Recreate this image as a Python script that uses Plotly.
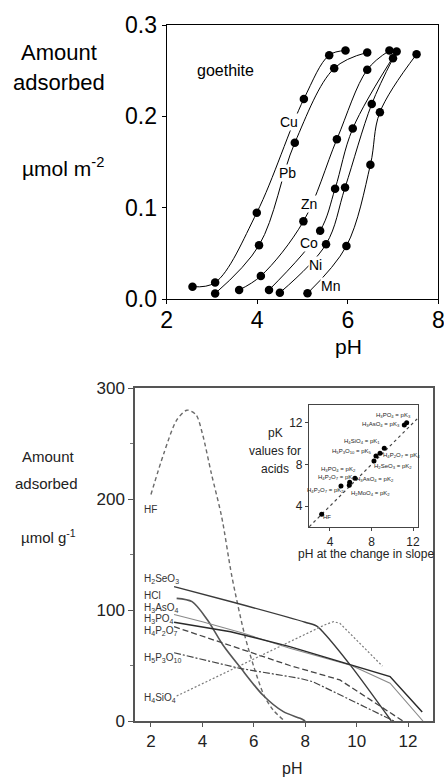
import plotly.graph_objects as go

W, H = 444, 781

# ---------------- top panel data (goethite, metals) ----------------
cu_ph = [2.57, 3.07, 3.99, 5.03, 5.59, 5.95]
cu_val = [0.0135, 0.018, 0.0945, 0.219, 0.267, 0.272]
pb_ph = [3.07, 4.04, 4.83, 5.70, 6.43]
pb_val = [0.006, 0.0588, 0.171, 0.2526, 0.270]
zn_ph = [3.60, 4.08, 5.02, 5.76, 6.43, 6.92]
zn_val = [0.0099, 0.0252, 0.085, 0.175, 0.251, 0.272]
co_ph = [4.26, 5.39, 5.72, 6.11, 7.08]
co_val = [0.0099, 0.0748, 0.1208, 0.1866, 0.271]
ni_ph = [4.50, 5.52, 5.94, 6.53, 7.00]
ni_val = [0.0069, 0.060, 0.122, 0.2135, 0.2635]
mn_ph = [5.11, 5.97, 6.50, 6.71, 7.52]
mn_val = [0.0062, 0.058, 0.147, 0.2045, 0.268]

# ---------------- bottom panel data (anions) ----------------
hf_ph = [2.0, 2.5, 3.0, 3.4, 3.75, 4.0, 4.35, 4.75, 5.15, 5.65, 6.0, 6.4, 6.75, 7.15]
hf_val = [204, 241, 271, 280, 276, 259, 223, 184, 130, 77, 49, 23, 10, 1]
se_ph = [2.9, 5.2, 8.0, 8.45, 8.7, 9.8, 11.35]
se_val = [121, 107, 89, 85.5, 80, 49, 0]
hcl_ph = [3.0, 3.6, 4.2, 4.8, 5.45, 6.35, 7.15, 7.8, 8.0]
hcl_val = [110.5, 107.5, 91, 68.5, 49, 23.4, 8.4, 2.4, 0]
as_ph = [2.9, 4.0, 5.6, 7.4, 9.8, 11.3, 12.58]
as_val = [96, 89.5, 79, 65.5, 50, 34, 0]
p_ph = [2.9, 5.1, 7.4, 9.8, 11.3, 12.55]
p_val = [89, 80.5, 67, 50.5, 40, 8]
p2o7_ph = [2.9, 7.4, 9.35, 11.8]
p2o7_val = [85, 50, 37, 0]
p3o10_ph = [2.9, 5.46, 7.79, 8.3, 11.45]
p3o10_val = [61.5, 47.4, 38.4, 35.4, 0]
si_ph = [3.0, 8.8, 9.1, 9.35, 11.0]
si_val = [22.5, 87, 89.5, 88, 49.5]

# ---------------- inset data ----------------
inset_ph = [3.2, 5.06, 5.86, 5.9, 6.41, 8.24, 8.43, 8.82, 9.23, 11.16, 11.39]
inset_pk = [3.2, 5.93, 6.0, 6.3, 6.67, 8.34, 8.82, 9.08, 9.56, 11.8, 12.03]
diag = [2.0, 12.4]

top_x_ticks = [2, 4, 6, 8]
top_y_ticks = [0.0, 0.1, 0.2, 0.3]
bot_x_ticks = [2, 4, 6, 8, 10, 12]
bot_y_ticks = [0, 100, 200, 300]
ins_ticks = [4, 8, 12]


def P(x, y):
    return x / W, 1 - y / H


fig = go.Figure()

# top panel
for xs, ys in [(cu_ph, cu_val), (pb_ph, pb_val), (zn_ph, zn_val),
               (co_ph, co_val), (ni_ph, ni_val), (mn_ph, mn_val)]:
    fig.add_trace(go.Scatter(x=xs, y=ys, mode="lines+markers",
                             line=dict(color="black", width=1, shape="spline", smoothing=1.0),
                             marker=dict(color="black", size=8.5),
                             xaxis="x", yaxis="y", showlegend=False, hoverinfo="skip"))

# bottom panel
bot_series = [
    (hf_ph, hf_val, "#6a6a6a", 1.4, "4px,3px", "spline"),
    (se_ph, se_val, "#3a3a3a", 1.4, "solid", "spline"),
    (hcl_ph, hcl_val, "#555555", 1.6, "solid", "spline"),
    (as_ph, as_val, "#8a8a8a", 1.1, "solid", "linear"),
    (p_ph, p_val, "#2a2a2a", 1.5, "solid", "linear"),
    (p2o7_ph, p2o7_val, "#444444", 1.3, "6px,3px", "linear"),
    (p3o10_ph, p3o10_val, "#444444", 1.2, "7px,2px,2px,2px", "linear"),
    (si_ph, si_val, "#7a7a7a", 1.2, "2px,2px", "linear"),
]
for xs, ys, c, w, d, sh in bot_series:
    fig.add_trace(go.Scatter(x=xs, y=ys, mode="lines",
                             line=dict(color=c, width=w, dash=d, shape=sh, smoothing=0.8),
                             xaxis="x2", yaxis="y2", showlegend=False, hoverinfo="skip"))

# inset
fig.add_trace(go.Scatter(x=diag, y=diag, mode="lines",
                         line=dict(color="#444", width=1.2, dash="3px,3px"),
                         xaxis="x3", yaxis="y3", showlegend=False, hoverinfo="skip"))
fig.add_trace(go.Scatter(x=inset_ph, y=inset_pk, mode="markers",
                         marker=dict(color="black", size=5),
                         xaxis="x3", yaxis="y3", showlegend=False, hoverinfo="skip"))

FT = "Arial, Liberation Sans, sans-serif"
FN = "Liberation Sans Narrow, Arial Narrow, Arial, sans-serif"

top_dx = [166.7 / W, 438.3 / W]
top_dy = [1 - 299 / H, 1 - 25 / H]
bot_dx = [135 / W, 433 / W]
bot_dy = [1 - 721 / H, 1 - 388 / H]
ins_dx = [309 / W, 418 / W]
ins_dy = [1 - 527 / H, 1 - 405 / H]

ax_common = dict(showline=True, mirror=True, showgrid=False, zeroline=False,
                 ticks="outside", automargin=False, ticklabeloverflow="allow")

fig.update_layout(
    template="none",
    width=W, height=H, margin=dict(l=0, r=0, t=0, b=0, pad=0, autoexpand=False),
    paper_bgcolor="white", plot_bgcolor="white", showlegend=False,
    xaxis=dict(domain=top_dx, range=[2, 8], tickvals=top_x_ticks, linecolor="black", linewidth=1.2,
               ticklen=4, tickcolor="black", tickfont=dict(family=FT, size=23, color="black"),
               ticklabelstandoff=-4, anchor="y", **ax_common),
    yaxis=dict(domain=top_dy, range=[0, 0.3], tickvals=top_y_ticks, tickformat=".1f",
               linecolor="black", linewidth=1.2, ticklen=4, tickcolor="black",
               tickfont=dict(family=FT, size=23, color="black"), anchor="x", **ax_common),
    xaxis2=dict(domain=bot_dx, range=[1.38, 12.97], tickvals=bot_x_ticks, linecolor="#555",
                linewidth=1.5, ticklen=4, tickcolor="#555",
                tickfont=dict(family=FN, size=17, color="#222"), anchor="y2", **ax_common),
    yaxis2=dict(domain=bot_dy, range=[0, 300], tickvals=bot_y_ticks, linecolor="#555",
                linewidth=1.5, ticklen=5, tickcolor="#555",
                minor=dict(tickvals=[50, 150, 250], ticklen=3, tickcolor="#777", ticks="outside"),
                tickfont=dict(family=FN, size=17, color="#222"), anchor="x2", **ax_common),
    xaxis3=dict(domain=ins_dx, range=[1.98, 12.48], tickvals=ins_ticks, linecolor="#444",
                linewidth=1.2, ticklen=3, tickcolor="#444",
                tickfont=dict(family=FN, size=12, color="#222"), anchor="y3", **ax_common),
    yaxis3=dict(domain=ins_dy, range=[1.98, 13.73], tickvals=ins_ticks, linecolor="#444",
                linewidth=1.2, ticklen=3, tickcolor="#444",
                tickfont=dict(family=FN, size=12, color="#222"), anchor="x3", **ax_common),
)

ann = []


def txt(x, y, t, size, font=FT, xa="center", ya="middle", color="black", bg=None):
    px, py = P(x, y)
    d = dict(x=px, y=py, xref="paper", yref="paper", text=t, showarrow=False,
             xanchor=xa, yanchor=ya, font=dict(family=font, size=size, color=color))
    if bg:
        d.update(bgcolor=bg, borderpad=0)
    ann.append(d)


# top panel titles
txt(59, 52, "Amount", 22)
txt(59, 82, "adsorbed", 22)
txt(63, 167, "µmol m<sup>-2</sup>", 21)
txt(348, 346, "pH", 21)
txt(225, 70, "goethite", 16)
txt(289, 122, "Cu", 14, bg="white")
txt(287, 173, "Pb", 14, bg="white")
txt(309, 204, "Zn", 14, bg="white")
txt(309, 243, "Co", 14, bg="white")
txt(315, 265, "Ni", 14, bg="white")
txt(330, 286, "Mn", 14, bg="white")

# bottom panel titles
txt(48, 457, "Amount", 15, font=FN, color="#222")
txt(46, 483, "adsorbed", 15, font=FN, color="#222")
txt(48, 536, "µmol g<sup>-1</sup>", 15, font=FN, color="#222")
txt(292, 768, "pH", 16, font=FN, color="#222")

# series labels
lab = [
    (509, "HF"),
    (579, "H<sub>2</sub>SeO<sub>3</sub>"),
    (595, "HCl"),
    (608, "H<sub>3</sub>AsO<sub>4</sub>"),
    (619, "H<sub>3</sub>PO<sub>4</sub>"),
    (631, "H<sub>4</sub>P<sub>2</sub>O<sub>7</sub>"),
    (658, "H<sub>5</sub>P<sub>3</sub>O<sub>10</sub>"),
    (698, "H<sub>4</sub>SiO<sub>4</sub>"),
]
for y, t in lab:
    txt(142, y, t, 10, font=FN, xa="left", color="#333")

# inset texts
txt(275, 433, "pK", 12, font=FN, color="#222")
txt(275, 451, "values for", 12, font=FN, color="#222")
txt(275, 469, "acids", 12, font=FN, color="#222")
txt(366, 554, "pH at the change in slope", 12, font=FN, color="#222")

ins_lab = [
    (393, 415, "H<sub>3</sub>PO<sub>4</sub> = pK<sub>3</sub>"),
    (381, 424, "H<sub>3</sub>AsO<sub>4</sub> = pK<sub>3</sub>"),
    (362, 441, "H<sub>4</sub>SiO<sub>4</sub> = pK<sub>1</sub>"),
    (352, 451, "H<sub>5</sub>P<sub>3</sub>O<sub>10</sub> = pK<sub>5</sub>"),
    (401, 455, "H<sub>4</sub>P<sub>2</sub>O<sub>7</sub> = pK<sub>4</sub>"),
    (393, 466, "H<sub>2</sub>SeO<sub>3</sub> = pK<sub>2</sub>"),
    (338, 469, "H<sub>3</sub>PO<sub>4</sub> = pK<sub>2</sub>"),
    (336, 477, "H<sub>4</sub>P<sub>2</sub>O<sub>7</sub> = pK<sub>3</sub>"),
    (375, 480, "H<sub>3</sub>AsO<sub>4</sub> = pK<sub>2</sub>"),
    (325, 490, "H<sub>4</sub>P<sub>2</sub>O<sub>7</sub> = pK<sub>2</sub>"),
    (370, 493, "H<sub>2</sub>MoO<sub>4</sub> = pK<sub>2</sub>"),
    (327, 517, "HF"),
]
for x, y, t in ins_lab:
    txt(x, y, t, 6, font=FN, color="#222")

fig.update_layout(annotations=ann)
fig.write_html("out.html", config={"displayModeBar": False},
               post_script="document.body.style.margin='0';document.body.style.overflow='hidden';")
